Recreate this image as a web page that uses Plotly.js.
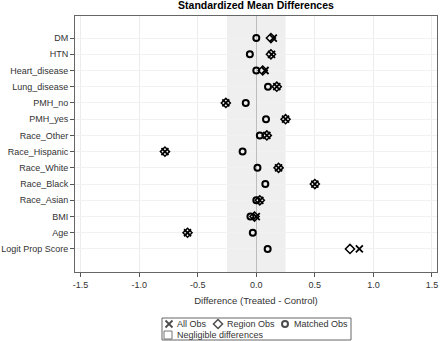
<!DOCTYPE html>
<html>
<head>
<meta charset="utf-8">
<script src="https://cdn.plot.ly/plotly-3.0.1.min.js"></script>
<style>html,body{margin:0;padding:0;background:#fff;}#chart{width:440px;height:341px;}</style>
</head>
<body>
<div id="chart"></div>
<script>
// ---- data ----
var variables = ["DM","HTN","Heart_disease","Lung_disease","PMH_no","PMH_yes","Race_Other","Race_Hispanic","Race_White","Race_Black","Race_Asian","BMI","Age","Logit Prop Score"];
var allObs     = [0.145, 0.13, 0.075, 0.175, -0.26, 0.25, 0.09, -0.78, 0.19, 0.50, 0.03, 0.0, -0.587, 0.88];
var regionObs  = [0.125, 0.125, 0.055, 0.175, -0.26, 0.25, 0.09, -0.78, 0.19, 0.50, 0.03, -0.015, -0.587, 0.80];
var matchedObs = [0.0, -0.055, 0.0, 0.10, -0.09, 0.083, 0.03, -0.117, 0.01, 0.077, 0.0, -0.05, -0.03, 0.097];
var negligibleLimits = [-0.25, 0.25];
var xTicks = [-1.5, -1.0, -0.5, 0.0, 0.5, 1.0, 1.5];
var xTickText = ["-1.5", "-1.0", "-0.5", "0.0", "0.5", "1.0", "1.5"];
var legendLabels = ["All Obs", "Region Obs", "Matched Obs", "Negligible differences"];

var FONT = "Liberation Sans, Arial, sans-serif";
var H = 341, T = 16, PB = 272;
var mainBottom = (H - PB) / (H - T);

var traces = [
  {x: allObs, y: variables, type: "scatter", mode: "markers", name: legendLabels[0],
   marker: {symbol: "x-thin-open", size: 7, color: "#000", line: {width: 1.8, color: "#000"}}},
  {x: regionObs, y: variables, type: "scatter", mode: "markers", name: legendLabels[1],
   marker: {symbol: "diamond-open", size: 7, color: "#000", line: {width: 1.5, color: "#000"}}},
  {x: matchedObs, y: variables, type: "scatter", mode: "markers", name: legendLabels[2],
   marker: {symbol: "circle-open", size: 6, color: "#000", line: {width: 2, color: "#000"}}},
  // legend symbols (drawn in the helper legend axes, pixel-like coordinates)
  {x: [169, 218, 285], y: [324, 324, 324], xaxis: "x2", yaxis: "y2", type: "scatter", mode: "markers",
   marker: {symbol: ["x-thin-open", "diamond-open", "circle-open"], size: [7, 7, 6], color: "#000",
            line: {width: [1.8, 1.5, 2], color: "#000"}}, hoverinfo: "skip"},
  {x: [168], y: [335], xaxis: "x2", yaxis: "y2", type: "scatter", mode: "markers",
   marker: {symbol: "square-open", size: 8, color: "#777", line: {width: 1, color: "#777"}}, hoverinfo: "skip"}
];

var layout = {
  width: 440, height: 341,
  margin: {l: 75, r: 3, t: T, b: 0},
  paper_bgcolor: "#fff", plot_bgcolor: "#fff",
  showlegend: false,
  font: {family: FONT, size: 9, color: "#333"},
  title: {text: "Standardized Mean Differences", x: 0.5, xref: "paper", xanchor: "center",
          y: 0.995, yanchor: "top", yref: "container", pad: {t: 0, b: 0},
          font: {family: FONT, size: 10.5, color: "#000", weight: "bold"}},
  xaxis: {range: [-1.548, 1.543], tickvals: xTicks, ticktext: xTickText, showgrid: true,
          gridcolor: "#ececec", gridwidth: 1, zeroline: true, zerolinecolor: "#bdbdbd", zerolinewidth: 1,
          showline: true, linecolor: "#666", linewidth: 1, mirror: true,
          ticks: "outside", ticklen: 4, tickcolor: "#555", tickfont: {size: 9, color: "#333"},
          title: {text: "Difference (Treated - Control)", font: {size: 9.5, color: "#333"}, standoff: 8},
          anchor: "y", fixedrange: true},
  yaxis: {type: "category", categoryorder: "array", categoryarray: variables,
          range: [14.42, -1.36], domain: [mainBottom, 1], showgrid: true, gridcolor: "#f1f1f1",
          zeroline: false, showline: true, linecolor: "#666", linewidth: 1, mirror: true,
          ticks: "outside", ticklen: 4, tickcolor: "#555", tickfont: {size: 9, color: "#333"},
          anchor: "x", fixedrange: true},
  xaxis2: {range: [75, 437], domain: [0, 1], anchor: "y2", visible: false, fixedrange: true},
  yaxis2: {range: [341, 272], domain: [0, mainBottom], anchor: "x2", visible: false, fixedrange: true},
  shapes: [
    {type: "rect", xref: "x", yref: "y domain", x0: negligibleLimits[0], x1: negligibleLimits[1], y0: 0, y1: 1,
     fillcolor: "#efefef", line: {width: 0}, layer: "below"},
    {type: "rect", xref: "x2", yref: "y2", x0: 162, x1: 351, y0: 318, y1: 340,
     fillcolor: "rgba(0,0,0,0)", line: {color: "#666", width: 1}}
  ],
  annotations: [
    {xref: "x2", yref: "y2", x: 175, y: 324, text: legendLabels[0], showarrow: false, xanchor: "left", yanchor: "middle", font: {size: 9, color: "#333"}},
    {xref: "x2", yref: "y2", x: 225, y: 324, text: legendLabels[1], showarrow: false, xanchor: "left", yanchor: "middle", font: {size: 9, color: "#333"}},
    {xref: "x2", yref: "y2", x: 292, y: 324, text: legendLabels[2], showarrow: false, xanchor: "left", yanchor: "middle", font: {size: 9, color: "#333"}},
    {xref: "x2", yref: "y2", x: 175, y: 335, text: legendLabels[3], showarrow: false, xanchor: "left", yanchor: "middle", font: {size: 9, color: "#333"}}
  ]
};

Plotly.newPlot("chart", traces, layout, {displayModeBar: false, staticPlot: true});
</script>
</body>
</html>
